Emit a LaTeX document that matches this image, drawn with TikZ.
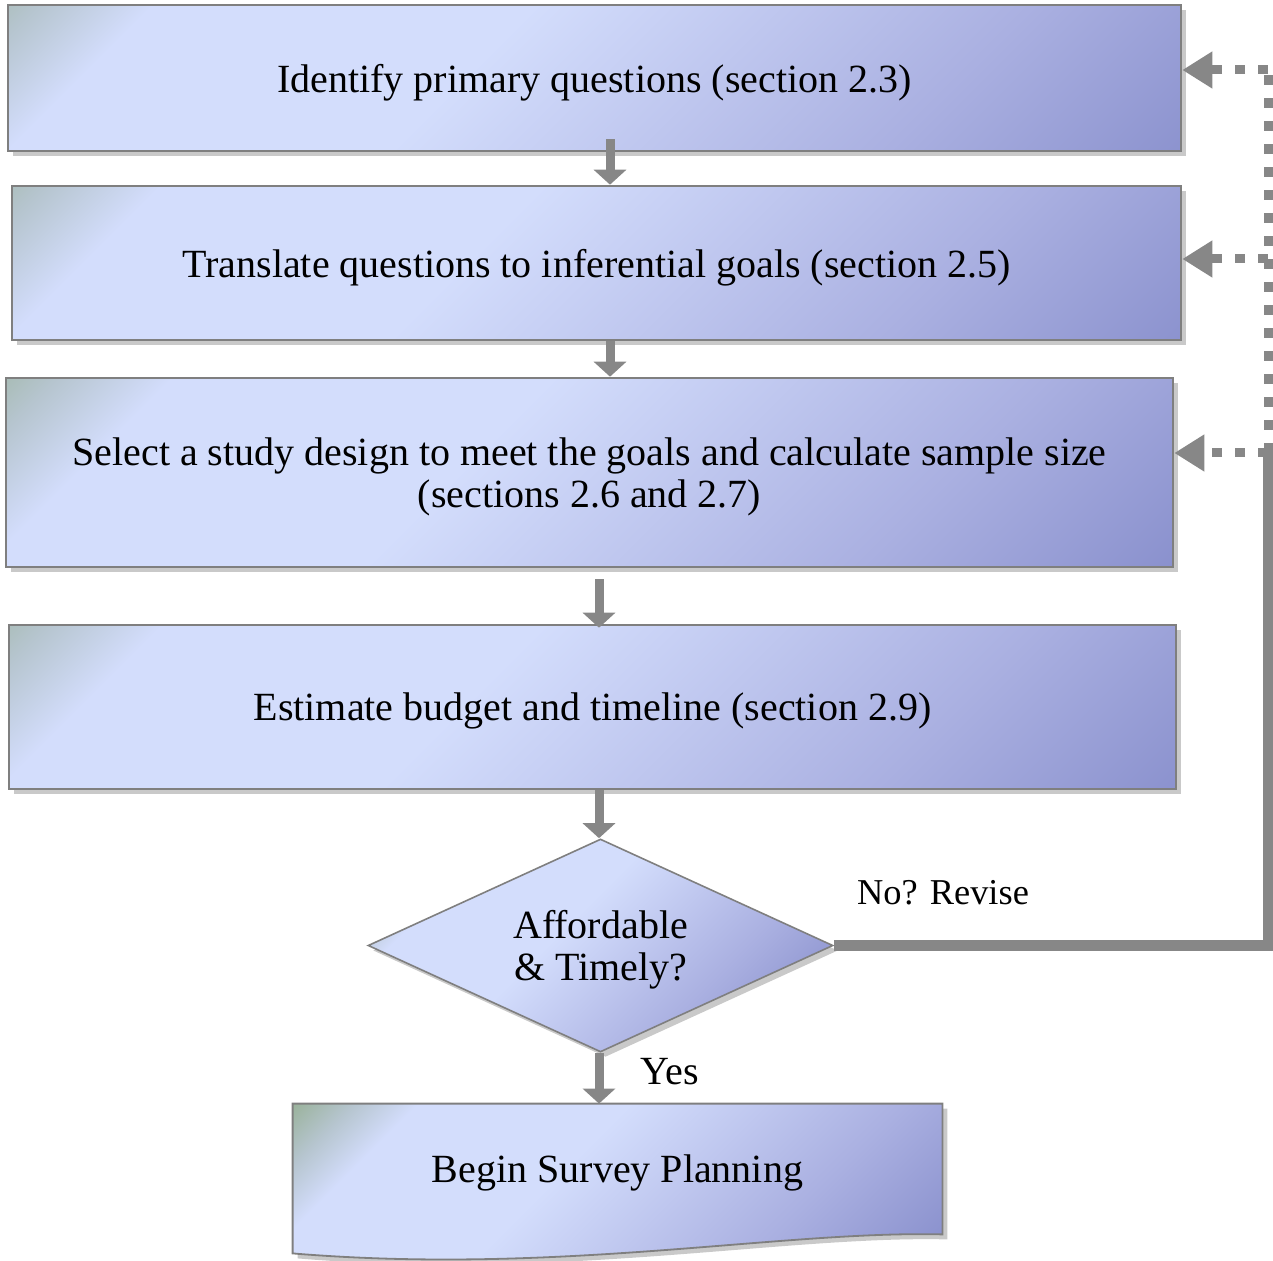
\documentclass[tikz,border=0pt]{standalone}
\usepackage{fontspec}
\setmainfont{Liberation Serif}
\usetikzlibrary{arrows.meta,shapes.geometric,shadows,calc,backgrounds}
\definecolor{boxline}{HTML}{7F7F7F}
\definecolor{boxshadow}{HTML}{C9C9C9}
\definecolor{gcorn}{HTML}{98B198}
\definecolor{gmid}{HTML}{B6C5CF}
\definecolor{lblue}{HTML}{D3DDFC}
\definecolor{pmid}{HTML}{AAB0E1}
\definecolor{pdark}{HTML}{7B82C4}
\definecolor{flowgray}{HTML}{878787}
\pgfdeclarehorizontalshading{boxgrad}{100bp}{color(0bp)=(gcorn); color(25bp)=(gcorn); color(27.5bp)=(gcorn); color(31bp)=(gmid); color(34.5bp)=(lblue); color(46bp)=(lblue); color(61bp)=(pmid); color(75bp)=(pdark); color(100bp)=(pdark)}
\begin{document}
\begin{tikzpicture}[x=0.5pt, y=-0.5pt,
  gradfill/.style={path picture={
    \shade[shading=boxgrad, transform canvas={rotate around={-45:(path picture bounding box.center)}}]
      let \p1=(path picture bounding box.south west), \p2=(path picture bounding box.north east),
          \n1={(\x2-\x1+\y2-\y1)/2.8284} in
      ([shift={(-\n1,-\n1)}]path picture bounding box.center) rectangle
      ([shift={(\n1,\n1)}]path picture bounding box.center);}},
  boxshade/.style={drop shadow={shadow xshift=2.5pt, shadow yshift=-2.5pt, fill=boxshadow, opacity=1}},
  flowbox/.style={rectangle, draw=boxline, line width=1.3pt, gradfill, boxshade,
    inner sep=0pt, align=center, text depth=0pt, font=\fontsize{20}{21}\selectfont},
  flowtext/.style={inner sep=0pt, font=\fontsize{20}{21}\selectfont},
  downarr/.style={draw=flowgray, line width=4.5pt, -{Triangle[width=16pt, length=7.5pt]}},
  fbsolid/.style={draw=flowgray, line width=5.5pt, line join=miter},
  fbdots/.style={draw=flowgray, line width=4.5pt, dash pattern=on 5pt off 6.5pt},
  fbarr/.style={fbdots, -{Triangle[width=17.5pt, length=15pt]}}]
\useasboundingbox (0,0) rectangle (1273,1261);
% boxes
\node[flowbox, minimum width=586.5pt, minimum height=73pt] (b1) at (594.5,78) {Identify primary questions (section 2.3)};
\node[flowbox, minimum width=584.5pt, minimum height=77pt] (b2) at (596.5,263) {Translate questions to inferential goals (section 2.5)};
\node[flowbox, minimum width=583.5pt, minimum height=94.5pt] (b3) at (589.5,472.5) {Select a study design to meet the goals and calculate sample size\\(sections 2.6 and 2.7)};
\node[flowbox, minimum width=583.5pt, minimum height=82pt] (b4) at (592.5,707) {Estimate budget and timeline (section 2.9)};
\node[flowbox, diamond, aspect=2.18, line width=0.8pt, minimum width=232.5pt, minimum height=106.5pt] (dia) at (600.5,945.5) {Affordable\\\& Timely?};
\node[flowtext, text depth=0pt, minimum width=324.5pt, minimum height=65pt] (b5) at (617.5,1169) {Begin Survey Planning};
\begin{scope}[on background layer]
\path[draw=boxline, line width=0.9pt, gradfill, boxshade] (b5.north west) -- (b5.north east) -- (b5.south east)
  .. controls ($(b5.south east)+(-162,-4)$) and ($(b5.south west)+(267,41)$) .. ($(b5.south west)+(0,19)$) -- cycle;
\end{scope}
% arrows down
\coordinate (colA) at (610,0);
\coordinate (colB) at (599,0);
\draw[downarr] ($(b1.south -| colA)+(0,-13)$) -- (b2.north -| colA);
\draw[downarr] (b2.south -| colA) -- (b3.north -| colA);
\draw[downarr] ($(b3.south -| colB)+(0,11)$) -- ($(b4.north -| colB)+(0,4)$);
\draw[downarr] (b4.south -| colB) -- (dia.north -| colB);
\draw[downarr] (dia.south -| colB) -- (b5.north -| colB);
\node[flowtext] (yes) at (670,1072) {Yes};
% revise loop
\coordinate (c1) at (1268,70);
\coordinate (c2) at (1268,259);
\coordinate (c3) at (1268,453);
\draw[fbsolid] (dia.east) -| (c3);
\draw[fbdots] (c3) -- (c1);
\draw[fbarr] (c1) -- (c1 -| b1.east);
\draw[fbarr] (c2) -- (c2 -| b2.east);
\draw[fbarr] (c3) -- (c3 -| b3.east);
\node[inner sep=0pt, font=\fontsize{18.2}{20}\selectfont] (norev) at (943,893) {No? Revise};
\end{tikzpicture}
\end{document}
